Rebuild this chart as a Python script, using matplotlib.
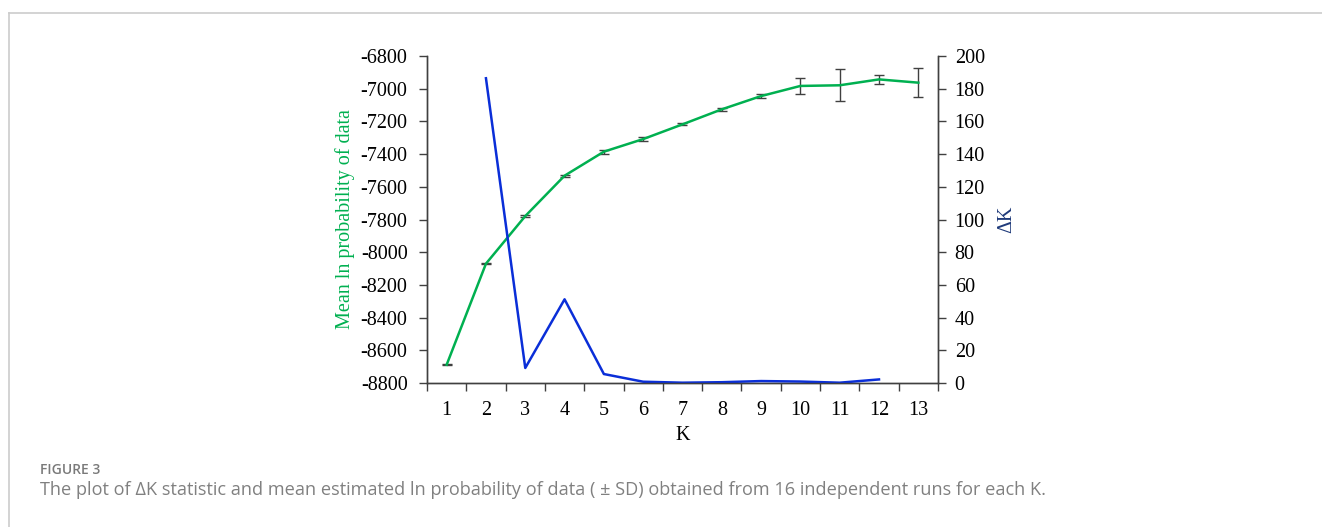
import matplotlib
matplotlib.use("Agg")
import matplotlib.pyplot as plt
from matplotlib.lines import Line2D

plt.rcParams['font.family'] = 'Liberation Serif'
plt.rcParams['font.size'] = 14.5
plt.rcParams['axes.linewidth'] = 1.0
plt.rcParams['axes.unicode_minus'] = False

# data
k_values = [1, 2, 3, 4, 5, 6, 7, 8, 9, 10, 11, 12, 13]
mean_lnp = [-8688, -8070, -7779, -7532, -7385, -7308, -7218, -7126, -7045, -6983, -6979, -6943, -6963]
sd_lnp = [3, 5, 8, 5, 12, 13, 6, 8, 13, 51, 97, 27, 89]
delta_k_x = [2, 3, 4, 5, 6, 7, 8, 9, 10, 11, 12]
delta_k = [186.4, 9.2, 51.2, 5.5, 0.8, 0.2, 0.5, 1.2, 0.9, 0.2, 2.2]

green = '#00b050'
blue = '#0a2ed8'
navy = '#1f3a7a'
spine_col = '#404040'

fig = plt.figure(figsize=(13.22, 5.27), dpi=100)
ax = fig.add_axes([0.323, 0.2732, 0.3865, 0.6205])
ax2 = ax.twinx()

ax.errorbar(k_values, mean_lnp, yerr=sd_lnp, color=green, lw=1.8,
            ecolor=spine_col, elinewidth=1.0, capsize=3.5, capthick=1.0, zorder=3)
ax2.plot(delta_k_x, delta_k, color=blue, lw=1.8, zorder=2)

ax.set_xlim(0.5, 13.5)
ax.set_ylim(-8800, -6800)
ax.set_yticks(range(-8800, -6799, 200))
ax2.set_ylim(0, 200)
ax2.set_yticks(range(0, 201, 20))

ax.set_xticks(k_values)
ax.set_xticks([k + 0.5 for k in range(0, 14)], minor=True)
ax.tick_params(axis='x', which='major', length=0, pad=13)
ax.tick_params(axis='x', which='minor', length=6, width=1.0, color=spine_col, direction='out')
ax.tick_params(axis='y', length=6, width=1.0, color=spine_col, direction='out', pad=8)
ax2.tick_params(axis='y', length=6, width=1.0, color=spine_col, direction='out', pad=6)

for a in (ax, ax2):
    a.spines['top'].set_visible(False)
    for s in ('left', 'right', 'bottom'):
        a.spines[s].set_color(spine_col)

ax.set_xlabel('K', labelpad=4)
ax.set_ylabel('Mean ln probability of data', color=green, labelpad=4)
ax2.set_ylabel('ΔK', color=navy, labelpad=9)

# card border
fig.add_artist(Line2D([9 / 1322, 1], [1 - 13 / 527, 1 - 13 / 527], color='#cccccc', lw=1.2))
fig.add_artist(Line2D([9 / 1322, 9 / 1322], [0, 1 - 13 / 527], color='#cccccc', lw=1.2))

fig.text(40 / 1322, 1 - 470 / 527, 'FIGURE 3', family='Open Sans', fontsize=10,
         fontweight='semibold', color='#7a7a7a', va='center')
fig.text(40 / 1322, 1 - 490 / 527,
         'The plot of ΔK statistic and mean estimated ln probability of data ( ± SD) '
         'obtained from 16 independent runs for each K.',
         family='Open Sans', fontsize=13.1, color='#808080', va='center')

fig.savefig('out.png', dpi=100)
